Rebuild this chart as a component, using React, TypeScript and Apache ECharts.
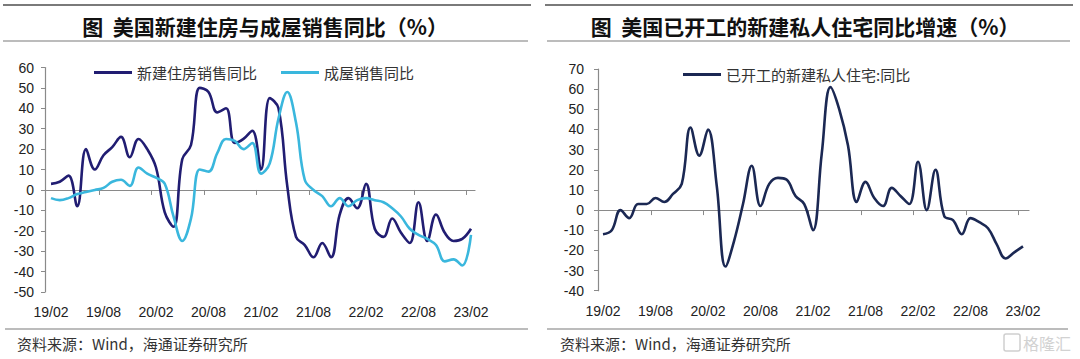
import React, { useEffect, useRef } from "react";
import * as echarts from "echarts";

// Monthly observations, 2019-02 .. 2023-02 (49 months)
const months: string[] = [];
for (let y = 2019; y <= 2023; y++) {
  for (let m = 1; m <= 12; m++) {
    const key = `${y}-${String(m).padStart(2, "0")}`;
    if (key >= "2019-02" && key <= "2023-02") months.push(key);
  }
}

// 新建住房销售同比 (%)
const newHomeSales = [
  3, 4, 7, -8, 20, 10, 17, 21, 26, 16, 25, 20, 11, -11, -18, 15, 22, 50, 48, 38,
  40, 23, 25, 29, 10, 45, 40, 2, -23, -27, -33, -26, -33, -12, -4, -9, 3, -19,
  -23, -14, -21, -26, -6, -25, -12, -21, -25, -24, -19,
];
// 成屋销售同比 (%)
const existingHomeSales = [
  -4, -5, -4, -2, -1, 0, 1, 4, 5, 2, 11, 8, 6, 3, -13, -25, -14, 10, 9, 18, 25,
  24, 20, 23, 8, 13, 35, 48, 33, 5, 0, -3, -8, -4, -8, -5, -4, -5, -6, -9, -13,
  -19, -22, -24, -27, -35, -34, -37, -22,
];
// 已开工的新建私人住宅:同比 (%)
const housingStarts = [
  -12, -10, 0, -4, 3, 3, 6, 4, 8, 13, 41, 27, 40, 12, -28, -15, 3, 22, 2, 13,
  16, 15, 7, 3, -10, 28, 61, 50, 32, 4, 14, 6, 2, 11, 7, 3, 24, 0, 20, -3, -5,
  -12, -4, -6, -9, -17, -24, -21, -18,
];

const xTickLabels = ["19/02", "19/08", "20/02", "20/08", "21/02", "21/08", "22/02", "22/08", "23/02"];
const xTickMonths = ["2019-02", "2019-08", "2020-02", "2020-08", "2021-02", "2021-08", "2022-02", "2022-08", "2023-02"];

const titleLeft = "图  美国新建住房与成屋销售同比（%）";
const titleRight = "图  美国已开工的新建私人住宅同比增速（%）";
const sourceText = "资料来源：Wind，海通证券研究所";

const NAVY = "#211d72";
const CYAN = "#3ab7dd";
const NAVY2 = "#1b2853";
const AXIS = "#8a8a8a";
const NUM_FONT = "'Liberation Sans', Arial, sans-serif";
const CJK_FONT = "'Noto Sans CJK SC', sans-serif";
const LEGEND_ICON = "path://M0,0 L38,0 L38,3 L0,3 Z";

export default function App() {
  const ref = useRef<HTMLDivElement>(null);
  useEffect(() => {
    if (!ref.current) return;
    const chart = echarts.init(ref.current, undefined, { renderer: "svg" });
    const labelPos = xTickMonths.map((m) => months.indexOf(m));
    const tickPos = labelPos.slice(1).map((p) => p - 0.5);
    const labelMap = new Map<number, string>();
    labelPos.forEach((p, k) => labelMap.set(p, xTickLabels[k]));

    const mkLine = (x1: number, y1: number, x2: number, y2: number, w = 1.5) => ({
      type: "line",
      shape: { x1, y1, x2, y2 },
      style: { stroke: "#7a7a7a", lineWidth: w },
      silent: true,
    });

    const xAxisPair = (grid: number, min: number, max: number) => [
      {
        type: "value",
        gridIndex: grid,
        min,
        max,
        position: "bottom",
        axisLine: { show: true, onZero: true, lineStyle: { color: AXIS, width: 1.2 } },
        axisTick: { show: true, customValues: tickPos, length: 5, lineStyle: { color: AXIS } },
        axisLabel: { show: false },
        splitLine: { show: false },
      },
      {
        type: "value",
        gridIndex: grid,
        min,
        max,
        position: "bottom",
        axisLine: { show: false, onZero: false },
        axisTick: { show: false },
        axisLabel: {
          show: true,
          customValues: labelPos,
          formatter: (v: number) => labelMap.get(Math.round(v)) ?? "",
          margin: 13,
          fontSize: 14,
          color: "#222",
          fontFamily: NUM_FONT,
        },
        splitLine: { show: false },
      },
    ];

    const yAxis = (grid: number, min: number, max: number, margin: number) => ({
      type: "value",
      gridIndex: grid,
      min,
      max,
      interval: 10,
      axisLine: { show: true, onZero: false, lineStyle: { color: AXIS, width: 1.2 } },
      axisTick: { show: true, length: 4, lineStyle: { color: AXIS } },
      axisLabel: { margin, fontSize: 14, color: "#222", fontFamily: NUM_FONT },
      splitLine: { show: false },
    });

    const legendBase = {
      padding: 0,
      icon: LEGEND_ICON,
      itemWidth: 38,
      itemHeight: 3,
      textStyle: { fontSize: 15, color: "#333", fontFamily: CJK_FONT },
    };

    chart.setOption({
      animation: false,
      backgroundColor: "#fff",
      grid: [
        { left: 45, top: 67.5, width: 430, height: 224.5 },
        { left: 598, top: 69, width: 431, height: 221.7 },
      ],
      xAxis: [
        ...xAxisPair(0, -6 / 8.75, 48 + 4 / 8.75),
        ...xAxisPair(1, -5 / 8.75, 48 + 6 / 8.75),
      ],
      yAxis: [yAxis(0, -50, 60, 11), yAxis(1, -40, 70, 14)],
      legend: [
        {
          ...legendBase,
          data: ["新建住房销售同比", "成屋销售同比"],
          left: 94,
          top: 65,
          itemGap: 24,
        },
        {
          ...legendBase,
          data: ["已开工的新建私人住宅:同比"],
          left: 683,
          top: 67,
        },
      ],
      series: [
        {
          type: "line",
          name: "新建住房销售同比",
          xAxisIndex: 0,
          yAxisIndex: 0,
          data: newHomeSales.map((v, i) => [i, v]),
          smooth: 0.4,
          symbol: "none",
          lineStyle: { width: 2.6, color: NAVY },
          itemStyle: { color: NAVY },
        },
        {
          type: "line",
          name: "成屋销售同比",
          xAxisIndex: 0,
          yAxisIndex: 0,
          data: existingHomeSales.map((v, i) => [i, v]),
          smooth: 0.4,
          symbol: "none",
          lineStyle: { width: 2.6, color: CYAN },
          itemStyle: { color: CYAN },
        },
        {
          type: "line",
          name: "已开工的新建私人住宅:同比",
          xAxisIndex: 2,
          yAxisIndex: 1,
          data: housingStarts.map((v, i) => [i, v]),
          smooth: 0.4,
          symbol: "none",
          lineStyle: { width: 2.6, color: NAVY2 },
          itemStyle: { color: NAVY2 },
        },
      ],
      graphic: [
        mkLine(3, 5, 531, 5, 1.8),
        mkLine(3, 41, 528, 41, 1.2),
        mkLine(545, 5, 1073, 5, 1.8),
        mkLine(547, 41, 1070, 41, 1.2),
        mkLine(5, 329, 528, 329, 1.2),
        mkLine(547, 329, 1068, 329, 1.2),
        {
          type: "text",
          x: 265,
          y: 26,
          style: {
            text: titleLeft,
            fontSize: 21,
            fontWeight: "bold",
            fontFamily: CJK_FONT,
            fill: "#111",
            align: "center",
            verticalAlign: "middle",
          },
        },
        {
          type: "text",
          x: 805,
          y: 26,
          style: {
            text: titleRight,
            fontSize: 21,
            fontWeight: "bold",
            fontFamily: CJK_FONT,
            fill: "#111",
            align: "center",
            verticalAlign: "middle",
          },
        },
        {
          type: "text",
          x: 17,
          y: 343,
          style: {
            text: sourceText,
            fontSize: 15,
            fontFamily: CJK_FONT,
            fill: "#333",
            align: "left",
            verticalAlign: "middle",
          },
        },
        {
          type: "text",
          x: 560,
          y: 343,
          style: {
            text: sourceText,
            fontSize: 15,
            fontFamily: CJK_FONT,
            fill: "#333",
            align: "left",
            verticalAlign: "middle",
          },
        },
        {
          type: "rect",
          shape: { x: 1004, y: 334, width: 16, height: 17, r: 2 },
          style: { fill: "none", stroke: "#cfcfcf", lineWidth: 1.5 },
        },
        {
          type: "text",
          x: 1023,
          y: 343,
          style: {
            text: "格隆汇",
            fontSize: 16,
            fontFamily: CJK_FONT,
            fill: "#d2d2d2",
            align: "left",
            verticalAlign: "middle",
          },
        },
      ],
    });
    return () => chart.dispose();
  }, []);
  return (
    <div
      ref={ref}
      style={{ position: "fixed", left: 0, top: 0, width: 1080, height: 359, background: "#fff" }}
    />
  );
}
